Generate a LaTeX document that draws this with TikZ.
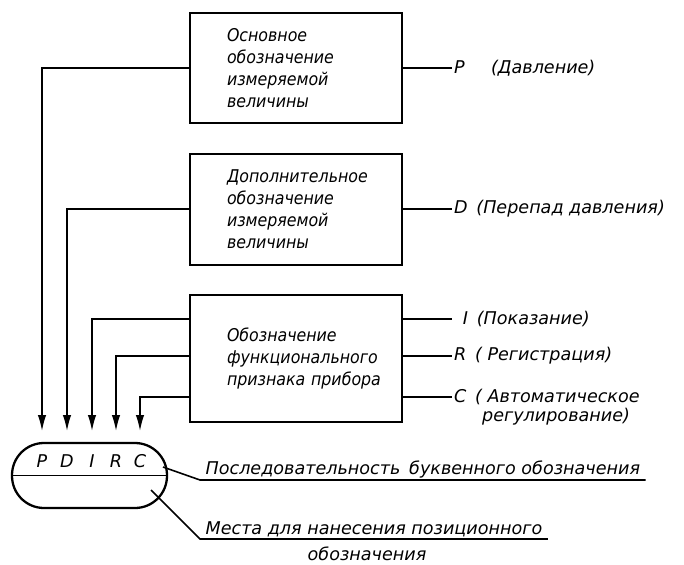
\documentclass[tikz,border=0pt]{standalone}
\usepackage{fontspec}
\setmainfont{DejaVu Sans}
\newfontfamily\uzkij{DejaVu Sans Condensed}[ItalicFont={DejaVu Sans Condensed Oblique}]
\usetikzlibrary{arrows.meta}

\tikzset{
  blok/.style={draw, line width=1.2pt, text width=2.76cm, inner xsep=0.74cm,
    align=left, font=\uzkij\itshape\fontsize{10}{12.5}\selectfont},
  linia/.style={line width=0.9pt},
  strelka/.style={linia, -{Latex[length=3.2mm,width=1.7mm]}},
  podpis/.style={font=\itshape\fontsize{10}{12}\selectfont, inner sep=1pt},
}

\begin{document}
\begin{tikzpicture}[x=0.02cm, y=-0.02cm]
  \useasboundingbox (0,0) rectangle (684,565);
  % bloki
  \node[blok, minimum height=2.2cm] (osn) at (296,68)
    {Основное\\обозначение\\измеряемой\\величины};
  \node[blok, minimum height=2.22cm] (dop) at (296,209.5)
    {Дополнительное\\обозначение\\измеряемой\\величины};
  \node[blok, minimum height=2.54cm] (fun) at (296,358.5)
    {Обозначение\\функционального\\признака~прибора};

  % podpisi sprava
  \node[podpis, anchor=west] (lP) at (452,68) {P\quad\enspace (Давление)};
  \node[podpis, anchor=west] (lD) at (452,209) {D\enspace (Перепад давления)};
  \node[podpis, anchor=west] (lI) at (452,319) {\enspace I\enspace (Показание)};
  \node[podpis, anchor=west] (lR) at (452,356) {R\enspace ( Регистрация)};
  \node[podpis, anchor=west] (lC) at (452,397) {C\enspace ( Автоматическое};
  \node[podpis, anchor=west] (lC2) at (480,417) {регулирование)};
  \draw[linia] (osn.east) -- (lP.west);
  \draw[linia] (dop.east |- lD.west) -- (lD.west);
  \draw[linia] (fun.east |- lI.west) -- (lI.west);
  \draw[linia] (fun.east |- lR.west) -- (lR.west);
  \draw[linia] (fun.east |- lC.west) -- (lC.west);

  % oboznachenie pribora
  \node[draw, line width=1.3pt, rounded corners=0.64cm, minimum width=3.1cm,
    minimum height=1.3cm] (poz) at (89.5,475.5) {};
  \draw[line width=1.1pt] (poz.west) -- (poz.east);
  \node[podpis] (bP) at (42,461) {P};
  \node[podpis] (bD) at (67,461) {D};
  \node[podpis] (bI) at (92,461) {I};
  \node[podpis] (bR) at (116,461) {R};
  \node[podpis] (bC) at (140,461) {C};

  % strelki
  \coordinate (sP) at (42,431);
  \coordinate (sD) at (67,431);
  \coordinate (sI) at (92,431);
  \coordinate (sR) at (116,431);
  \coordinate (sC) at (140,431);
  \draw[strelka] (osn.west) -| (sP);
  \draw[strelka] (dop.west |- lD.west) -| (sD);
  \draw[strelka] (fun.west |- lI.west) -| (sI);
  \draw[strelka] (fun.west |- lR.west) -| (sR);
  \draw[strelka] (fun.west |- lC.west) -| (sC);

  % vynoski
  \node[podpis, anchor=south west, inner xsep=3pt] (tPos) at (200,480)
    {Последовательность\enspace буквенного обозначения};
  \node[podpis, anchor=south west, inner xsep=3pt] (tMes) at (200,539)
    {Места для нанесения позиционного};
  \node[podpis] (tMes2) at (367,554) {обозначения};
  \coordinate (v1) at (163,467);
  \coordinate (v2) at (151,490);
  \draw[linia] (v1) -- (tPos.south west) -- (tPos.south east);
  \draw[linia] (v2) -- (tMes.south west) -- (tMes.south east);
\end{tikzpicture}
\end{document}
